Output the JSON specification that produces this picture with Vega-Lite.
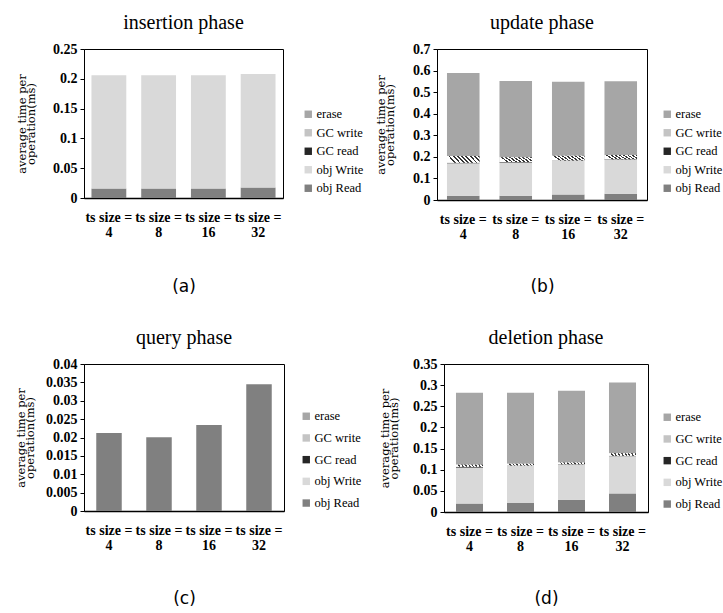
{
  "$schema": "https://vega.github.io/schema/vega-lite/v6.json",
  "background": "white",
  "padding": {"left": 15, "top": 12, "right": 0, "bottom": 0},
  "datasets": {
    "ins": [
      {"size": "ts size = 4", "comp": "obj Read", "k": 1, "v": 0.016},
      {"size": "ts size = 4", "comp": "obj Write", "k": 2, "v": 0.190},
      {"size": "ts size = 8", "comp": "obj Read", "k": 1, "v": 0.016},
      {"size": "ts size = 8", "comp": "obj Write", "k": 2, "v": 0.190},
      {"size": "ts size = 16", "comp": "obj Read", "k": 1, "v": 0.016},
      {"size": "ts size = 16", "comp": "obj Write", "k": 2, "v": 0.190},
      {"size": "ts size = 32", "comp": "obj Read", "k": 1, "v": 0.0175},
      {"size": "ts size = 32", "comp": "obj Write", "k": 2, "v": 0.1905}
    ],
    "upd": [
      {"size": "ts size = 4", "comp": "obj Read", "k": 1, "v": 0.020},
      {"size": "ts size = 4", "comp": "obj Write", "k": 2, "v": 0.150},
      {"size": "ts size = 4", "comp": "GC read", "k": 3, "v": 0.003},
      {"size": "ts size = 4", "comp": "GC write", "k": 4, "v": 0.031},
      {"size": "ts size = 4", "comp": "erase", "k": 5, "v": 0.385},
      {"size": "ts size = 8", "comp": "obj Read", "k": 1, "v": 0.020},
      {"size": "ts size = 8", "comp": "obj Write", "k": 2, "v": 0.154},
      {"size": "ts size = 8", "comp": "GC read", "k": 3, "v": 0.002},
      {"size": "ts size = 8", "comp": "GC write", "k": 4, "v": 0.022},
      {"size": "ts size = 8", "comp": "erase", "k": 5, "v": 0.354},
      {"size": "ts size = 16", "comp": "obj Read", "k": 1, "v": 0.025},
      {"size": "ts size = 16", "comp": "obj Write", "k": 2, "v": 0.156},
      {"size": "ts size = 16", "comp": "GC read", "k": 3, "v": 0.002},
      {"size": "ts size = 16", "comp": "GC write", "k": 4, "v": 0.022},
      {"size": "ts size = 16", "comp": "erase", "k": 5, "v": 0.343},
      {"size": "ts size = 32", "comp": "obj Read", "k": 1, "v": 0.029},
      {"size": "ts size = 32", "comp": "obj Write", "k": 2, "v": 0.158},
      {"size": "ts size = 32", "comp": "GC read", "k": 3, "v": 0.002},
      {"size": "ts size = 32", "comp": "GC write", "k": 4, "v": 0.020},
      {"size": "ts size = 32", "comp": "erase", "k": 5, "v": 0.342}
    ],
    "qry": [
      {"size": "ts size = 4", "comp": "obj Read", "k": 1, "v": 0.0212},
      {"size": "ts size = 8", "comp": "obj Read", "k": 1, "v": 0.0201},
      {"size": "ts size = 16", "comp": "obj Read", "k": 1, "v": 0.0234},
      {"size": "ts size = 32", "comp": "obj Read", "k": 1, "v": 0.0345}
    ],
    "del": [
      {"size": "ts size = 4", "comp": "obj Read", "k": 1, "v": 0.020},
      {"size": "ts size = 4", "comp": "obj Write", "k": 2, "v": 0.085},
      {"size": "ts size = 4", "comp": "GC read", "k": 3, "v": 0.002},
      {"size": "ts size = 4", "comp": "GC write", "k": 4, "v": 0.005},
      {"size": "ts size = 4", "comp": "erase", "k": 5, "v": 0.170},
      {"size": "ts size = 8", "comp": "obj Read", "k": 1, "v": 0.022},
      {"size": "ts size = 8", "comp": "obj Write", "k": 2, "v": 0.087},
      {"size": "ts size = 8", "comp": "GC read", "k": 3, "v": 0.001},
      {"size": "ts size = 8", "comp": "GC write", "k": 4, "v": 0.004},
      {"size": "ts size = 8", "comp": "erase", "k": 5, "v": 0.168},
      {"size": "ts size = 16", "comp": "obj Read", "k": 1, "v": 0.029},
      {"size": "ts size = 16", "comp": "obj Write", "k": 2, "v": 0.083},
      {"size": "ts size = 16", "comp": "GC read", "k": 3, "v": 0.001},
      {"size": "ts size = 16", "comp": "GC write", "k": 4, "v": 0.004},
      {"size": "ts size = 16", "comp": "erase", "k": 5, "v": 0.170},
      {"size": "ts size = 32", "comp": "obj Read", "k": 1, "v": 0.044},
      {"size": "ts size = 32", "comp": "obj Write", "k": 2, "v": 0.088},
      {"size": "ts size = 32", "comp": "GC read", "k": 3, "v": 0.001},
      {"size": "ts size = 32", "comp": "GC write", "k": 4, "v": 0.006},
      {"size": "ts size = 32", "comp": "erase", "k": 5, "v": 0.167}
    ]
  },
  "config": {
    "view": {"stroke": "#000", "strokeWidth": 1},
    "axis": {
      "labelFont": "Liberation Serif", "labelFontWeight": "bold", "labelFontSize": 14, "labelColor": "#000",
      "domainColor": "#000", "tickColor": "#000", "grid": false,
      "titleColor": "#000", "titleFontWeight": "normal"
    },
    "axisX": {"ticks": false, "labelAngle": 0, "labelPadding": 12, "labelLineHeight": 15, "labelBaseline": "top",
      "titleFont": "DejaVu Sans", "titleFontSize": 17, "titlePadding": 39, "domainWidth": 1.5},
    "axisY": {"tickSize": 4, "labelPadding": 3, "titleFont": "DejaVu Serif", "titleFontSize": 11.5, "titleLineHeight": 9, "format": "~g", "labelBaseline": "middle"},
    "title": {"font": "Liberation Serif", "fontSize": 20, "fontWeight": "normal", "color": "#000", "offset": 9, "frame": "group", "anchor": "middle"},
    "legend": {"orient": "none", "labelFont": "Liberation Serif", "labelFontSize": 12.5, "labelColor": "#000",
      "symbolType": "square", "symbolSize": 55, "symbolStrokeWidth": 0, "rowPadding": 5.5, "labelOffset": 2, "title": null}
  },
  "bounds": "flush",
  "spacing": 315,
  "resolve": {"scale": {"color": "independent"}},
  "vconcat": [
    {
      "bounds": "flush",
      "spacing": 154,
      "resolve": {"scale": {"color": "independent"}},
      "hconcat": [
        {
          "title": "insertion phase",
          "width": 199, "height": 149,
          "data": {"name": "ins"},
          "transform": [{"stack": "v", "groupby": ["size"], "sort": [{"field": "k", "order": "ascending"}], "as": ["y0", "y1"]}],
          "encoding": {
            "x": {"field": "size", "type": "nominal", "scale": {"domain": ["ts size = 4", "ts size = 8", "ts size = 16", "ts size = 32"], "paddingInner": 0.3, "paddingOuter": 0.15},
              "axis": {"title": "(a)", "labelExpr": "['ts size =', replace(datum.label, 'ts size = ', '')]"}},
            "y": {"field": "y1", "type": "quantitative", "scale": {"domain": [0, 0.25]},
              "axis": {"values": [0, 0.05, 0.1, 0.15, 0.2, 0.25], "title": ["average time per", "operation(ms)"], "titlePadding": 16}},
            "y2": {"field": "y0"}
          },
          "layer": [
            {"mark": {"type": "bar"},
             "encoding": {"color": {"field": "comp", "type": "nominal",
               "scale": {"domain": ["erase", "GC write", "GC read", "obj Write", "obj Read"], "range": ["#a6a6a6", "#c4c4c4", "#262626", "#d9d9d9", "#808080"]},
               "legend": {"legendX": 218, "legendY": 59,
                 "encode": {"symbols": {"update": {"fill": [
                   {"test": "datum.value === 'GC write'", "value": {"gradient": "linear", "x1": 0, "y1": 1, "x2": 1, "y2": 0, "stops": [{"offset": 0, "color": "#fff"}, {"offset": 0.2, "color": "#fff"}, {"offset": 0.2, "color": "#555"}, {"offset": 0.33, "color": "#555"}, {"offset": 0.33, "color": "#fff"}, {"offset": 0.53, "color": "#fff"}, {"offset": 0.53, "color": "#555"}, {"offset": 0.66, "color": "#555"}, {"offset": 0.66, "color": "#fff"}, {"offset": 0.86, "color": "#fff"}, {"offset": 0.86, "color": "#555"}, {"offset": 1, "color": "#555"}]}},
                   {"test": "datum.value === 'erase'", "value": "#a6a6a6"},
                   {"test": "datum.value === 'GC read'", "value": "#262626"},
                   {"test": "datum.value === 'obj Write'", "value": "#d9d9d9"},
                   {"value": "#808080"}]}}}}}}},
            {"transform": [{"filter": "datum.comp === 'GC write'"}],
             "mark": {"type": "bar", "color": {"gradient": "linear", "x1": 0, "y1": 0.2, "x2": 1, "y2": 0, "stops": [{"offset": 0, "color": "#fff"}, {"offset": 0.07, "color": "#fff"}, {"offset": 0.07, "color": "#333"}, {"offset": 0.125, "color": "#333"}, {"offset": 0.125, "color": "#fff"}, {"offset": 0.195, "color": "#fff"}, {"offset": 0.195, "color": "#333"}, {"offset": 0.25, "color": "#333"}, {"offset": 0.25, "color": "#fff"}, {"offset": 0.32, "color": "#fff"}, {"offset": 0.32, "color": "#333"}, {"offset": 0.375, "color": "#333"}, {"offset": 0.375, "color": "#fff"}, {"offset": 0.445, "color": "#fff"}, {"offset": 0.445, "color": "#333"}, {"offset": 0.5, "color": "#333"}, {"offset": 0.5, "color": "#fff"}, {"offset": 0.57, "color": "#fff"}, {"offset": 0.57, "color": "#333"}, {"offset": 0.625, "color": "#333"}, {"offset": 0.625, "color": "#fff"}, {"offset": 0.695, "color": "#fff"}, {"offset": 0.695, "color": "#333"}, {"offset": 0.75, "color": "#333"}, {"offset": 0.75, "color": "#fff"}, {"offset": 0.82, "color": "#fff"}, {"offset": 0.82, "color": "#333"}, {"offset": 0.875, "color": "#333"}, {"offset": 0.875, "color": "#fff"}, {"offset": 0.945, "color": "#fff"}, {"offset": 0.945, "color": "#333"}, {"offset": 1, "color": "#333"}]}}}
          ]
        },
        {
          "title": "update phase",
          "width": 210, "height": 151,
          "data": {"name": "upd"},
          "transform": [{"stack": "v", "groupby": ["size"], "sort": [{"field": "k", "order": "ascending"}], "as": ["y0", "y1"]}],
          "encoding": {
            "x": {"field": "size", "type": "nominal", "scale": {"domain": ["ts size = 4", "ts size = 8", "ts size = 16", "ts size = 32"], "paddingInner": 0.38, "paddingOuter": 0.19},
              "axis": {"title": "(b)", "titlePadding": 37, "labelExpr": "['ts size =', replace(datum.label, 'ts size = ', '')]"}},
            "y": {"field": "y1", "type": "quantitative", "scale": {"domain": [0, 0.7]},
              "axis": {"values": [0, 0.1, 0.2, 0.3, 0.4, 0.5, 0.6, 0.7], "title": ["average time per", "operation(ms)"], "titlePadding": 17}},
            "y2": {"field": "y0"}
          },
          "layer": [
            {"mark": {"type": "bar"},
             "encoding": {"color": {"field": "comp", "type": "nominal",
               "scale": {"domain": ["erase", "GC write", "GC read", "obj Write", "obj Read"], "range": ["#a6a6a6", "#c4c4c4", "#262626", "#d9d9d9", "#808080"]},
               "legend": {"legendX": 224, "legendY": 59,
                 "encode": {"symbols": {"update": {"fill": [
                   {"test": "datum.value === 'GC write'", "value": {"gradient": "linear", "x1": 0, "y1": 1, "x2": 1, "y2": 0, "stops": [{"offset": 0, "color": "#fff"}, {"offset": 0.2, "color": "#fff"}, {"offset": 0.2, "color": "#555"}, {"offset": 0.33, "color": "#555"}, {"offset": 0.33, "color": "#fff"}, {"offset": 0.53, "color": "#fff"}, {"offset": 0.53, "color": "#555"}, {"offset": 0.66, "color": "#555"}, {"offset": 0.66, "color": "#fff"}, {"offset": 0.86, "color": "#fff"}, {"offset": 0.86, "color": "#555"}, {"offset": 1, "color": "#555"}]}},
                   {"test": "datum.value === 'erase'", "value": "#a6a6a6"},
                   {"test": "datum.value === 'GC read'", "value": "#262626"},
                   {"test": "datum.value === 'obj Write'", "value": "#d9d9d9"},
                   {"value": "#808080"}]}}}}}}},
            {"transform": [{"filter": "datum.comp === 'GC write'"}],
             "mark": {"type": "bar", "color": {"gradient": "linear", "x1": 0, "y1": 0.2, "x2": 1, "y2": 0, "stops": [{"offset": 0, "color": "#fff"}, {"offset": 0.07, "color": "#fff"}, {"offset": 0.07, "color": "#333"}, {"offset": 0.125, "color": "#333"}, {"offset": 0.125, "color": "#fff"}, {"offset": 0.195, "color": "#fff"}, {"offset": 0.195, "color": "#333"}, {"offset": 0.25, "color": "#333"}, {"offset": 0.25, "color": "#fff"}, {"offset": 0.32, "color": "#fff"}, {"offset": 0.32, "color": "#333"}, {"offset": 0.375, "color": "#333"}, {"offset": 0.375, "color": "#fff"}, {"offset": 0.445, "color": "#fff"}, {"offset": 0.445, "color": "#333"}, {"offset": 0.5, "color": "#333"}, {"offset": 0.5, "color": "#fff"}, {"offset": 0.57, "color": "#fff"}, {"offset": 0.57, "color": "#333"}, {"offset": 0.625, "color": "#333"}, {"offset": 0.625, "color": "#fff"}, {"offset": 0.695, "color": "#fff"}, {"offset": 0.695, "color": "#333"}, {"offset": 0.75, "color": "#333"}, {"offset": 0.75, "color": "#fff"}, {"offset": 0.82, "color": "#fff"}, {"offset": 0.82, "color": "#333"}, {"offset": 0.875, "color": "#333"}, {"offset": 0.875, "color": "#fff"}, {"offset": 0.945, "color": "#fff"}, {"offset": 0.945, "color": "#333"}, {"offset": 1, "color": "#333"}]}}}
          ]
        }
      ]
    },
    {
      "bounds": "flush",
      "spacing": 160,
      "resolve": {"scale": {"color": "independent"}},
      "hconcat": [
        {
          "title": "query phase",
          "width": 200, "height": 147,
          "data": {"name": "qry"},
          "transform": [{"stack": "v", "groupby": ["size"], "sort": [{"field": "k", "order": "ascending"}], "as": ["y0", "y1"]}],
          "encoding": {
            "x": {"field": "size", "type": "nominal", "scale": {"domain": ["ts size = 4", "ts size = 8", "ts size = 16", "ts size = 32"], "paddingInner": 0.49, "paddingOuter": 0.245},
              "axis": {"title": "(c)", "titlePadding": 38, "labelExpr": "['ts size =', replace(datum.label, 'ts size = ', '')]"}},
            "y": {"field": "y1", "type": "quantitative", "scale": {"domain": [0, 0.04]},
              "axis": {"values": [0, 0.005, 0.01, 0.015, 0.02, 0.025, 0.03, 0.035, 0.04], "title": ["average time per", "operation(ms)"], "titlePadding": 10}},
            "y2": {"field": "y0"}
          },
          "layer": [
            {"mark": {"type": "bar"},
             "encoding": {"color": {"field": "comp", "type": "nominal",
               "scale": {"domain": ["erase", "GC write", "GC read", "obj Write", "obj Read"], "range": ["#a6a6a6", "#c4c4c4", "#262626", "#d9d9d9", "#808080"]},
               "legend": {"legendX": 216, "legendY": 46, "rowPadding": 8.7,
                 "encode": {"symbols": {"update": {"fill": [
                   {"test": "datum.value === 'GC write'", "value": {"gradient": "linear", "x1": 0, "y1": 1, "x2": 1, "y2": 0, "stops": [{"offset": 0, "color": "#fff"}, {"offset": 0.2, "color": "#fff"}, {"offset": 0.2, "color": "#555"}, {"offset": 0.33, "color": "#555"}, {"offset": 0.33, "color": "#fff"}, {"offset": 0.53, "color": "#fff"}, {"offset": 0.53, "color": "#555"}, {"offset": 0.66, "color": "#555"}, {"offset": 0.66, "color": "#fff"}, {"offset": 0.86, "color": "#fff"}, {"offset": 0.86, "color": "#555"}, {"offset": 1, "color": "#555"}]}},
                   {"test": "datum.value === 'erase'", "value": "#a6a6a6"},
                   {"test": "datum.value === 'GC read'", "value": "#262626"},
                   {"test": "datum.value === 'obj Write'", "value": "#d9d9d9"},
                   {"value": "#808080"}]}}}}}}}
          ]
        },
        {
          "title": "deletion phase",
          "width": 204, "height": 148,
          "data": {"name": "del"},
          "transform": [{"stack": "v", "groupby": ["size"], "sort": [{"field": "k", "order": "ascending"}], "as": ["y0", "y1"]}],
          "encoding": {
            "x": {"field": "size", "type": "nominal", "scale": {"domain": ["ts size = 4", "ts size = 8", "ts size = 16", "ts size = 32"], "paddingInner": 0.47, "paddingOuter": 0.235},
              "axis": {"title": "(d)", "titlePadding": 37, "labelExpr": "['ts size =', replace(datum.label, 'ts size = ', '')]"}},
            "y": {"field": "y1", "type": "quantitative", "scale": {"domain": [0, 0.35]},
              "axis": {"values": [0, 0.05, 0.1, 0.15, 0.2, 0.25, 0.3, 0.35], "title": ["average time per", "operation(ms)"], "titlePadding": 13}},
            "y2": {"field": "y0"}
          },
          "layer": [
            {"mark": {"type": "bar"},
             "encoding": {"color": {"field": "comp", "type": "nominal",
               "scale": {"domain": ["erase", "GC write", "GC read", "obj Write", "obj Read"], "range": ["#a6a6a6", "#c4c4c4", "#262626", "#d9d9d9", "#808080"]},
               "legend": {"legendX": 217, "legendY": 47, "rowPadding": 8.7,
                 "encode": {"symbols": {"update": {"fill": [
                   {"test": "datum.value === 'GC write'", "value": {"gradient": "linear", "x1": 0, "y1": 1, "x2": 1, "y2": 0, "stops": [{"offset": 0, "color": "#fff"}, {"offset": 0.2, "color": "#fff"}, {"offset": 0.2, "color": "#555"}, {"offset": 0.33, "color": "#555"}, {"offset": 0.33, "color": "#fff"}, {"offset": 0.53, "color": "#fff"}, {"offset": 0.53, "color": "#555"}, {"offset": 0.66, "color": "#555"}, {"offset": 0.66, "color": "#fff"}, {"offset": 0.86, "color": "#fff"}, {"offset": 0.86, "color": "#555"}, {"offset": 1, "color": "#555"}]}},
                   {"test": "datum.value === 'erase'", "value": "#a6a6a6"},
                   {"test": "datum.value === 'GC read'", "value": "#262626"},
                   {"test": "datum.value === 'obj Write'", "value": "#d9d9d9"},
                   {"value": "#808080"}]}}}}}}},
            {"transform": [{"filter": "datum.comp === 'GC write'"}],
             "mark": {"type": "bar", "color": {"gradient": "linear", "x1": 0, "y1": 0.05, "x2": 1, "y2": 0, "stops": [{"offset": 0, "color": "#fff"}, {"offset": 0.07, "color": "#fff"}, {"offset": 0.07, "color": "#333"}, {"offset": 0.125, "color": "#333"}, {"offset": 0.125, "color": "#fff"}, {"offset": 0.195, "color": "#fff"}, {"offset": 0.195, "color": "#333"}, {"offset": 0.25, "color": "#333"}, {"offset": 0.25, "color": "#fff"}, {"offset": 0.32, "color": "#fff"}, {"offset": 0.32, "color": "#333"}, {"offset": 0.375, "color": "#333"}, {"offset": 0.375, "color": "#fff"}, {"offset": 0.445, "color": "#fff"}, {"offset": 0.445, "color": "#333"}, {"offset": 0.5, "color": "#333"}, {"offset": 0.5, "color": "#fff"}, {"offset": 0.57, "color": "#fff"}, {"offset": 0.57, "color": "#333"}, {"offset": 0.625, "color": "#333"}, {"offset": 0.625, "color": "#fff"}, {"offset": 0.695, "color": "#fff"}, {"offset": 0.695, "color": "#333"}, {"offset": 0.75, "color": "#333"}, {"offset": 0.75, "color": "#fff"}, {"offset": 0.82, "color": "#fff"}, {"offset": 0.82, "color": "#333"}, {"offset": 0.875, "color": "#333"}, {"offset": 0.875, "color": "#fff"}, {"offset": 0.945, "color": "#fff"}, {"offset": 0.945, "color": "#333"}, {"offset": 1, "color": "#333"}]}}}
          ]
        }
      ]
    }
  ]
}
